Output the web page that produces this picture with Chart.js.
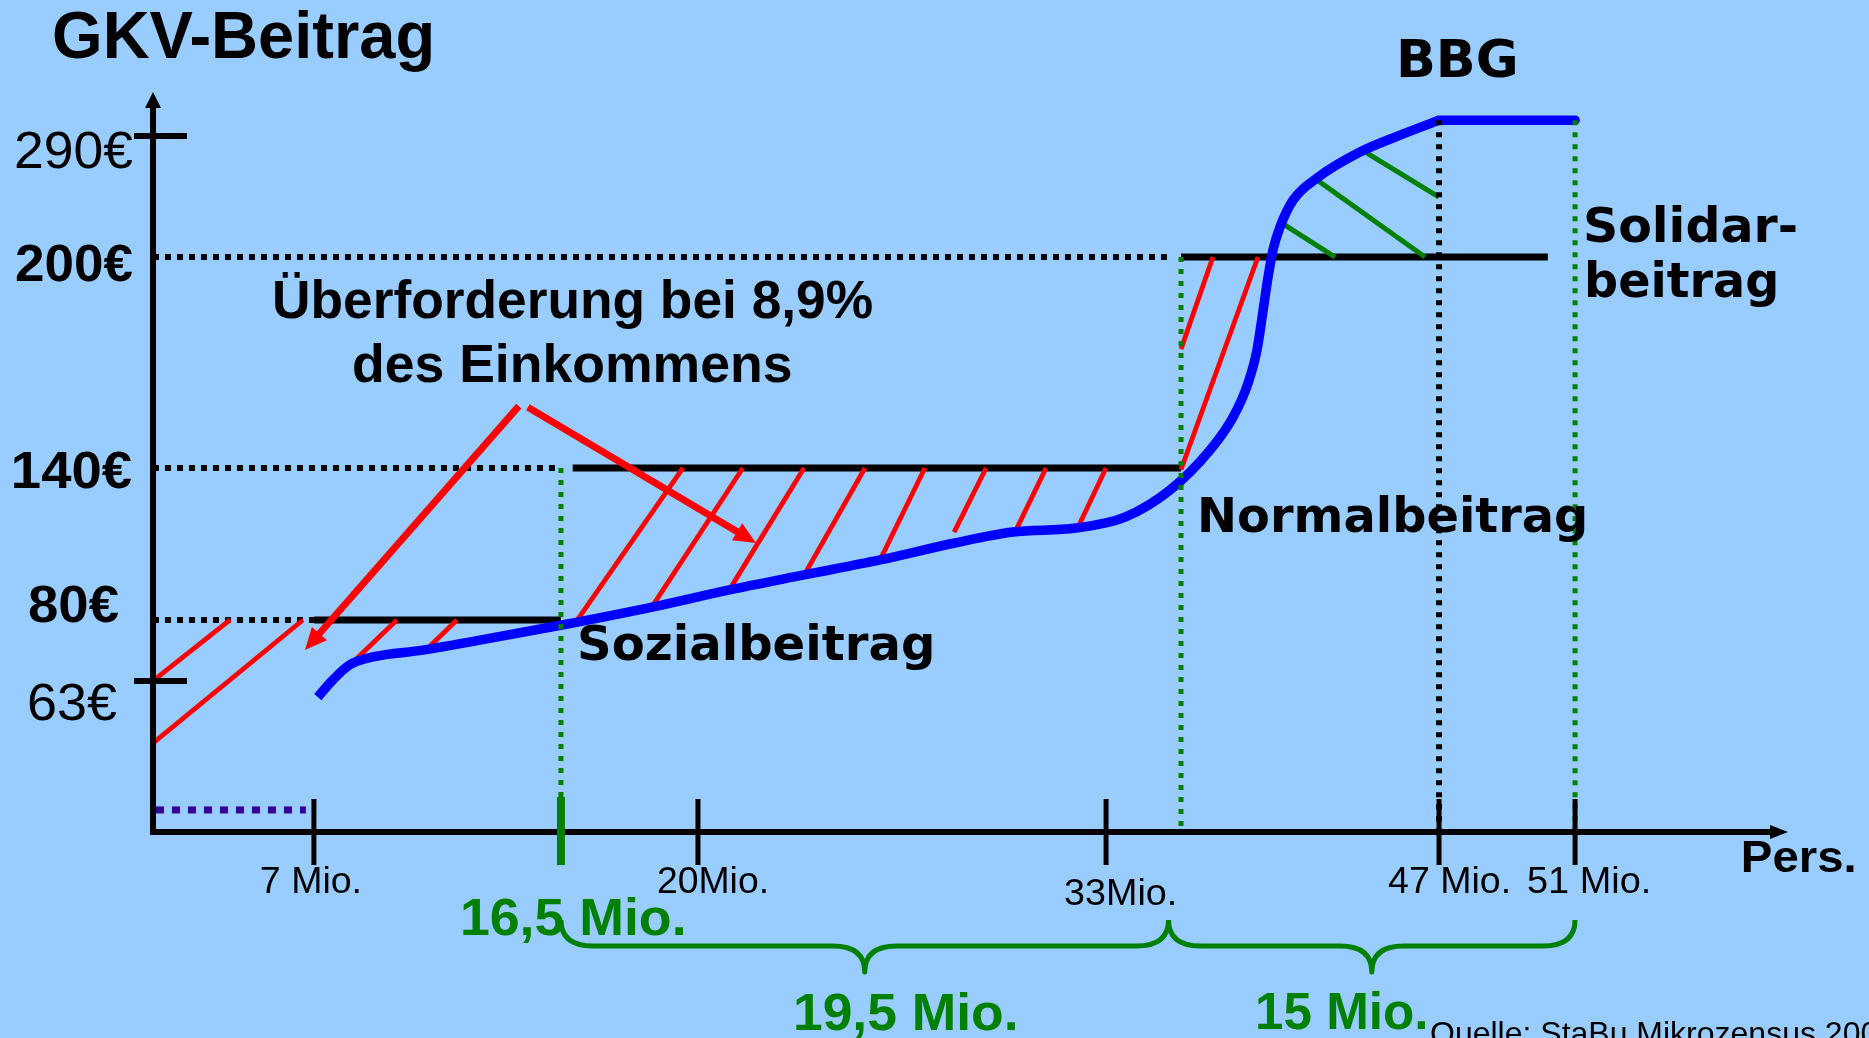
<!DOCTYPE html>
<html>
<head>
<meta charset="utf-8">
<title>GKV-Beitrag</title>
<script src="https://cdn.jsdelivr.net/npm/chart.js@4.4.1/dist/chart.umd.min.js"></script>
<style>
html, body { margin: 0; padding: 0; background: #99ccff; }
#wrap { width: 1869px; height: 1038px; position: relative; }
</style>
</head>
<body>
<div id="wrap"><canvas id="chart"></canvas></div>
<script>
// x = persons (Mio.), y = contribution (€)

// blue contribution curve
const curveMio  = [7.15, 7.73, 8.38, 9.27, 11.19, 13.38, 16.53, 18.83, 20.96, 23.38, 25.8, 28.18, 30.03, 32.04, 33.76, 35.56, 37.24, 38.22, 38.86, 39.24, 39.5, 39.71, 39.92, 40.22, 40.78, 41.8, 43.63, 45.34, 47];
const curveEuro = [56.3, 63.3, 67.5, 69.7, 71.6, 74.4, 78.6, 85.1, 91.8, 97.8, 103.7, 110.4, 114.7, 116.3, 120.6, 131.3, 145.1, 154.5, 164.2, 173.6, 184.9, 194.3, 205.2, 222.3, 242.4, 258.8, 278.1, 290.7, 301.9];
const bbgMio = [47, 51];
const bbgEuro = 301.9;

// contribution levels (Sozial-, Normal-, Solidarbeitrag)
const levelEuro  = [80, 140, 200];
const levelDotTo = [7, 16.4, 35.6];
const levelFrom  = [7, 16.8, 36];
const levelTo    = [16.5, 36, 50.2];

// vertical guides [Mio, € top]
const greenGuides = [[16.5, 140], [36, 200], [51, 301.9]];
const blackGuide = [47, 301.9];

// lowest incomes (purple dotted)
const lowMio = [0.13, 6.65];
const lowEuro = 9.2;

// hatching [x1, y1, x2, y2]
const redHatch = [
  [0, 63, 3.35, 80], [0, 37.1, 6.52, 80], [8.31, 66.9, 10.19, 80], [11.23, 71.1, 12.5, 80],
  [16.88, 79.4, 19.62, 140], [18.82, 85.1, 21.43, 140], [20.96, 91.1, 23.38, 140],
  [23.35, 97, 25.32, 140], [25.77, 102.9, 27.23, 140], [28.16, 114.7, 29.18, 140],
  [30.1, 114.7, 31.09, 140], [32.05, 115.1, 33, 140],
  [36, 139.4, 39.28, 200], [36, 173.8, 37.36, 200]
];
const greenHatch = [
  [40.43, 223.8, 42.57, 200], [41.8, 257.3, 46.4, 200], [43.72, 279.6, 47, 244.6]
];

// arrows from the "Überforderung" note
const arrowFrom = [[14.88, 157.6], [15.23, 157.3]];
const arrowTo   = [[6.61, 71.6], [21.85, 110.4]];

const yTicks = [63, 80, 140, 200, 290];
const yTickLabels = ['63€', '80€', '140€', '200€', '290€'];
const yTickMarks = [63, 290];
const xTicks = [7, 20, 33, 47, 51];
const xTickLabels = ['7 Mio.', '20Mio.', '33Mio.', '47 Mio.', '51 Mio.'];
const splitMio = 16.5;
const groupEdges = [16.5, 35.5, 51];

// non-linear axes: value -> fraction of the axis
const KNOTS = {
  x: [[0, 0], [7, 0.0983], [16.5, 0.2492], [20, 0.3329], [33, 0.5822], [36, 0.6280], [47, 0.7856], [51, 0.8687], [56, 1]],
  y: [[0, 0], [63, 0.2041], [80, 0.2865], [140, 0.4919], [200, 0.7770], [290, 0.9405], [323, 1]]
};

function toFrac(k, v) {
  let i = 0;
  while (i < k.length - 2 && v > k[i + 1][0]) i++;
  const [a, fa] = k[i], [b, fb] = k[i + 1];
  return fa + (v - a) / (b - a) * (fb - fa);
}
function fromFrac(k, f) {
  let i = 0;
  while (i < k.length - 2 && f > k[i + 1][1]) i++;
  const [a, fa] = k[i], [b, fb] = k[i + 1];
  return a + (f - fa) / (fb - fa) * (b - a);
}

class PiecewiseScale extends Chart.LinearScale {
  static id = 'piecewise';
  static defaults = Chart.LinearScale.defaults;
  getPixelForValue(value) {
    if (value === null || value === undefined || isNaN(value)) return NaN;
    return this.getPixelForDecimal(toFrac(KNOTS[this.id], value));
  }
  getValueForPixel(pixel) {
    return fromFrac(KNOTS[this.id], this.getDecimalForPixel(pixel));
  }
}
Chart.register(PiecewiseScale);

const RED = '#ff0000', GREEN = '#008000', BLUE = '#0000ff', BLACK = '#000000', PURPLE = '#330099';

function line(points, color, width, dash, order, extra) {
  return Object.assign({
    data: points, showLine: true, borderColor: color, borderWidth: width,
    borderDash: dash || [], pointRadius: 0, fill: false, clip: false,
    order: order, borderCapStyle: 'butt', tension: 0
  }, extra || {});
}
const pt = (x, y) => ({ x: x, y: y });

const datasets = [];
levelEuro.forEach((v, i) => {
  datasets.push(line([pt(0, v), pt(levelDotTo[i], v)], BLACK, 6, [6, 6], 9));
  datasets.push(line([pt(levelFrom[i], v), pt(levelTo[i], v)], BLACK, 7, [], 8));
});
redHatch.forEach(s => datasets.push(line([pt(s[0], s[1]), pt(s[2], s[3])], RED, 4.8, [], 7)));
greenHatch.forEach(s => datasets.push(line([pt(s[0], s[1]), pt(s[2], s[3])], GREEN, 5, [], 7)));
datasets.push(line([pt(lowMio[0], lowEuro), pt(lowMio[1], lowEuro)], PURPLE, 7, [8, 8], 7));
datasets.push(line(curveMio.map((x, i) => pt(x, curveEuro[i])), BLUE, 9.5, [], 6, { cubicInterpolationMode: 'monotone' }));
datasets.push(line(bbgMio.map(x => pt(x, bbgEuro)), BLUE, 9.5, [], 6, { borderCapStyle: 'round' }));
greenGuides.forEach(g => datasets.push(line([pt(g[0], g[1]), pt(g[0], 0)], GREEN, 5, [5, 7], 5)));
datasets.push(line([pt(blackGuide[0], blackGuide[1]), pt(blackGuide[0], 0)], BLACK, 6, [5, 7], 5));

function fitText(ctx, str, font, x0, x1, baseline, color) {
  ctx.save();
  ctx.font = font;
  ctx.fillStyle = color || BLACK;
  ctx.textAlign = 'left';
  ctx.textBaseline = 'alphabetic';
  const m = ctx.measureText(str);
  if (x1 == null) {
    ctx.fillText(str, x0, baseline);
  } else {
    const ink = m.actualBoundingBoxLeft + m.actualBoundingBoxRight;
    const s = (x1 - x0) / ink;
    ctx.translate(x0 + m.actualBoundingBoxLeft * s, baseline);
    ctx.scale(s, 1);
    ctx.fillText(str, 0, 0);
  }
  ctx.restore();
}

function stroke(ctx, x1, y1, x2, y2, color, width) {
  ctx.beginPath();
  ctx.strokeStyle = color;
  ctx.lineWidth = width;
  ctx.lineCap = 'butt';
  ctx.moveTo(x1, y1);
  ctx.lineTo(x2, y2);
  ctx.stroke();
}
function tri(ctx, pts, color) {
  ctx.beginPath();
  ctx.fillStyle = color;
  ctx.moveTo(pts[0][0], pts[0][1]);
  ctx.lineTo(pts[1][0], pts[1][1]);
  ctx.lineTo(pts[2][0], pts[2][1]);
  ctx.closePath();
  ctx.fill();
}

const LIB = '"Liberation Sans", Arial, sans-serif';
const DJV = '"DejaVu Sans", Verdana, sans-serif';
const notes = [
  ['GKV-Beitrag', 'bold 66px ' + LIB, 54, 431, 58, BLACK],
  ['BBG', 'bold 52px ' + DJV, 1400, 1515, 77, BLACK],
  ['Solidar-', 'bold 48px ' + DJV, 1586, 1796, 242, BLACK],
  ['beitrag', 'bold 48px ' + DJV, 1588, 1776, 297, BLACK],
  ['Normalbeitrag', 'bold 48px ' + DJV, 1201, 1585, 532, BLACK],
  ['Sozialbeitrag', 'bold 48px ' + DJV, 580, 932, 660, BLACK],
  ['Überforderung bei 8,9%', 'bold 53px ' + LIB, 275, 872, 318, BLACK],
  ['des Einkommens', 'bold 53px ' + LIB, 354, 791, 382, BLACK],
  ['Pers.', 'bold 45px ' + LIB, 1744, 1854, 872, BLACK],
  ['16,5 Mio.', 'bold 52px ' + LIB, 463, 683, 935, GREEN],
  ['19,5 Mio.', 'bold 52px ' + LIB, 796, 1015, 1030, GREEN],
  ['15 Mio.', 'bold 52px ' + LIB, 1258, 1425, 1029, GREEN],
  ['Quelle: StaBu Mikrozensus 2003', '32px ' + LIB, 1430, null, 1044, BLACK]
];
const yLabelBox = [[29, 117, 39], [29, 118, 2], [14, 131, 20], [16, 132, 24], [16, 133, 32]];
const yLabelBold = [false, true, true, true, false];
const xLabelDx = [-53, -40, -41, -51, -47];
const xLabelW = [98, 108, 109, 120, 120];
const xLabelBase = [893, 893, 905, 893, 893];

const diagram = {
  id: 'diagram',
  beforeDraw(chart) {
    const ctx = chart.ctx;
    ctx.save();
    ctx.fillStyle = '#99ccff';
    ctx.fillRect(0, 0, chart.width, chart.height);
    ctx.restore();
  },
  afterDatasetsDraw(chart) {
    const ctx = chart.ctx;
    const xs = chart.scales.x, ys = chart.scales.y;
    const X = v => xs.getPixelForValue(v), Y = v => ys.getPixelForValue(v);
    const x0 = X(0), y0 = Y(0);
    ctx.save();

    // arrows
    arrowFrom.forEach((a, i) => {
      const p0 = [X(a[0]), Y(a[1])], p1 = [X(arrowTo[i][0]), Y(arrowTo[i][1])];
      const dx = p1[0] - p0[0], dy = p1[1] - p0[1], len = Math.hypot(dx, dy);
      const ux = dx / len, uy = dy / len, head = 22, half = 10;
      stroke(ctx, p0[0], p0[1], p1[0] - ux * head * 0.7, p1[1] - uy * head * 0.7, RED, 7);
      const bx = p1[0] - ux * head, by = p1[1] - uy * head;
      tri(ctx, [p1, [bx - uy * half, by + ux * half], [bx + uy * half, by - ux * half]], RED);
    });

    // axes
    const xEnd = X(56) - 2, yTop = Y(323);
    stroke(ctx, x0 - 3, y0, xEnd - 15, y0, BLACK, 6);
    tri(ctx, [[xEnd, y0], [xEnd - 18, y0 - 7], [xEnd - 18, y0 + 7]], BLACK);
    stroke(ctx, x0, y0 + 3, x0, yTop + 13, BLACK, 6);
    tri(ctx, [[x0, yTop], [x0 - 8, yTop + 16], [x0 + 8, yTop + 16]], BLACK);

    xTicks.forEach(v => stroke(ctx, X(v), y0 - 33, X(v), y0 + 33, BLACK, 5));
    stroke(ctx, X(splitMio), y0 - 35, X(splitMio), y0 + 33, GREEN, 8);
    yTickMarks.forEach(v => stroke(ctx, x0 - 19, Y(v), x0 + 34, Y(v), BLACK, 6));

    // braces
    const bTop = y0 + 88, bMid = y0 + 114, bCusp = y0 + 140, r = 32;
    ctx.strokeStyle = GREEN;
    ctx.lineWidth = 5;
    ctx.lineJoin = 'round';
    for (let i = 0; i < groupEdges.length - 1; i++) {
      const a = X(groupEdges[i]), b = X(groupEdges[i + 1]), m = (a + b) / 2;
      ctx.beginPath();
      ctx.moveTo(a, bTop);
      ctx.quadraticCurveTo(a, bMid, a + r, bMid);
      ctx.lineTo(m - r, bMid);
      ctx.quadraticCurveTo(m, bMid, m, bCusp);
      ctx.quadraticCurveTo(m, bMid, m + r, bMid);
      ctx.lineTo(b - r, bMid);
      ctx.quadraticCurveTo(b, bMid, b, bTop);
      ctx.stroke();
    }

    // tick labels
    yTicks.forEach((v, i) => {
      const box = yLabelBox[i];
      fitText(ctx, yTickLabels[i], (yLabelBold[i] ? 'bold ' : '') + '52px ' + LIB, box[0], box[1], Y(v) + box[2], BLACK);
    });
    xTicks.forEach((v, i) => {
      const l = X(v) + xLabelDx[i];
      fitText(ctx, xTickLabels[i], '36px ' + LIB, l, l + xLabelW[i], xLabelBase[i], BLACK);
    });

    notes.forEach(n => fitText(ctx, n[0], n[1], n[2], n[3], n[4], n[5]));
    ctx.restore();
  }
};

new Chart(document.getElementById('chart'), {
  type: 'scatter',
  data: { datasets: datasets },
  options: {
    responsive: true,
    maintainAspectRatio: false,
    animation: false,
    events: [],
    layout: { autoPadding: false, padding: { left: 153, right: 79, top: 92, bottom: 206 } },
    scales: {
      x: { type: 'piecewise', min: 0, max: 56, display: false },
      y: { type: 'piecewise', min: 0, max: 323, display: false }
    },
    plugins: { legend: { display: false }, tooltip: { enabled: false } }
  },
  plugins: [diagram]
});
</script>
</body>
</html>
